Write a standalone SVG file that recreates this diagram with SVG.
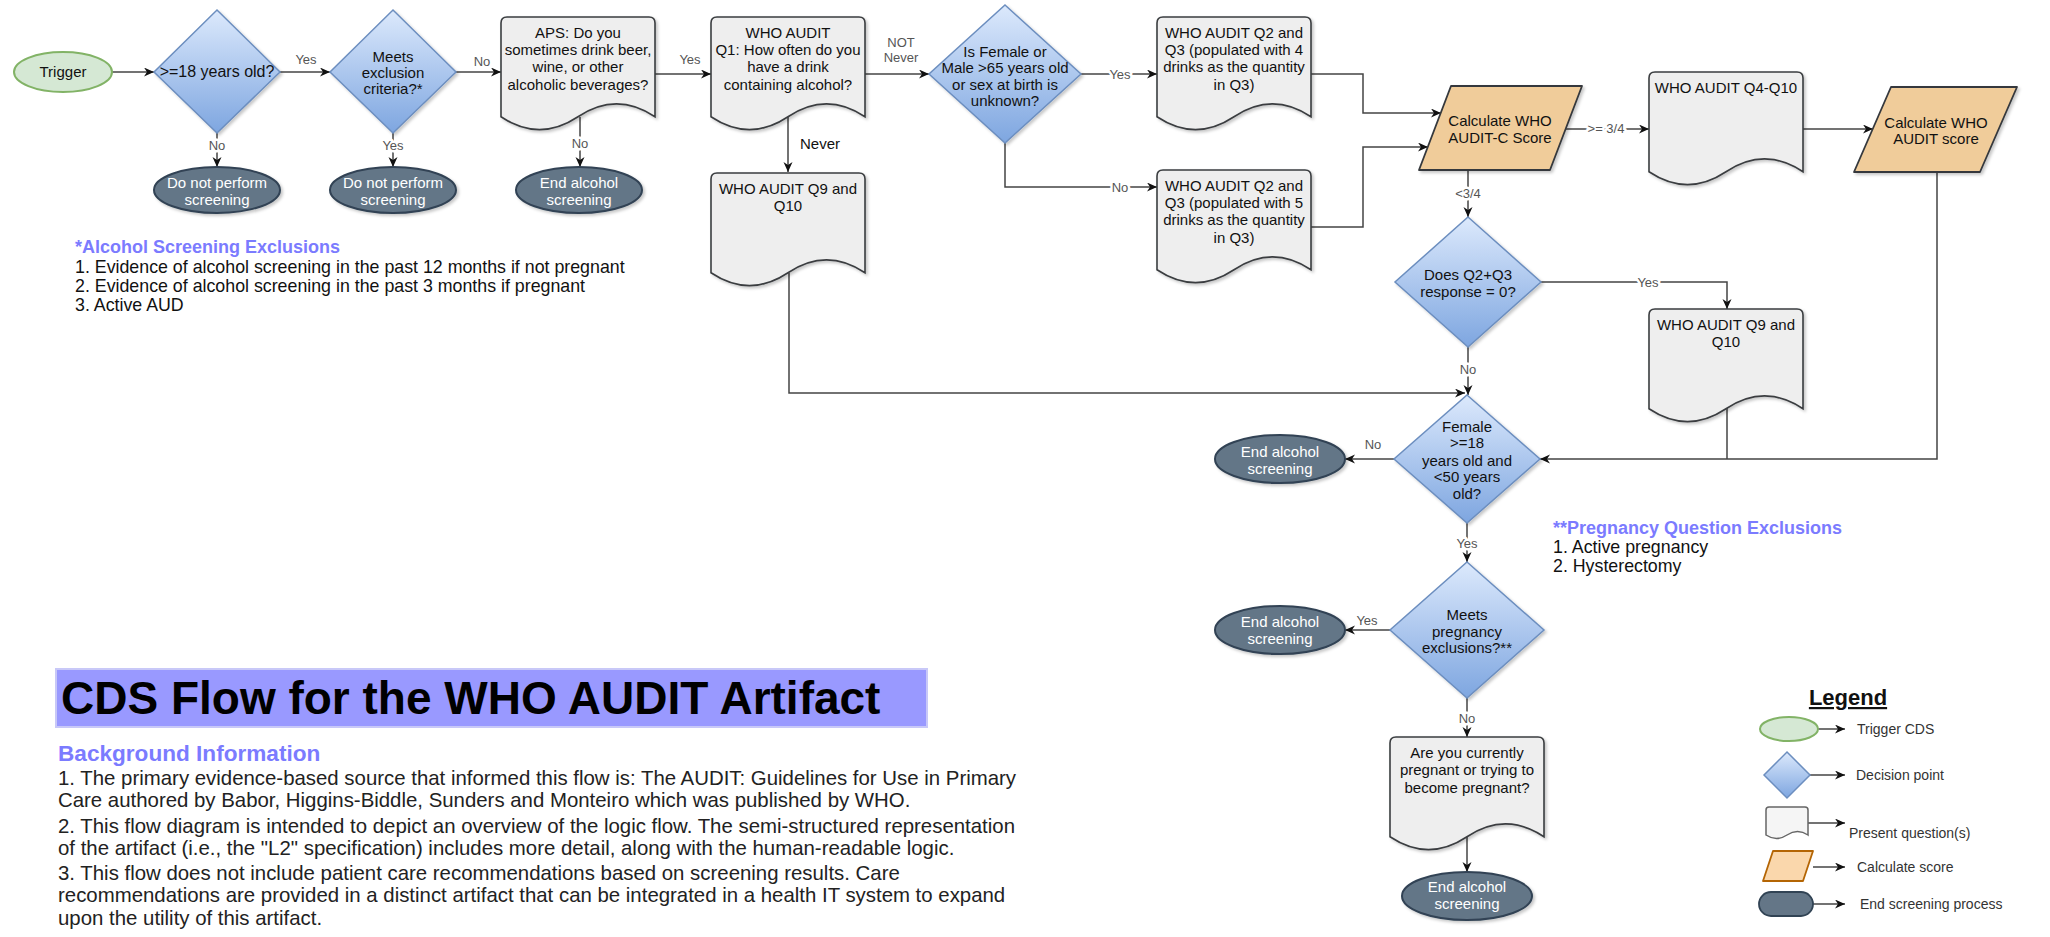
<svg xmlns="http://www.w3.org/2000/svg" xmlns:xlink="http://www.w3.org/1999/xlink" width="2050" height="937" viewBox="0 0 2050 937">
<defs>
<linearGradient id="gDia" x1="0" y1="0" x2="0" y2="1">
<stop offset="0" stop-color="#dce9fc"/>
<stop offset="1" stop-color="#7ea6e0"/>
</linearGradient>
<filter id="sh" x="-10%" y="-10%" width="130%" height="130%">
<feDropShadow dx="2" dy="2" stdDeviation="1.5" flood-color="#000" flood-opacity="0.22"/>
</filter>
<marker id="arr" markerUnits="userSpaceOnUse" markerWidth="12" markerHeight="10" refX="10" refY="4.5" orient="auto">
<path d="M0,0 L10,4.5 L0,9 L3,4.5 Z" fill="#111"/>
</marker>
<path id="doc" d="M0,6 Q0,0 6,0 H148 Q154,0 154,6 V99.75 Q115.5,74.1 77,99.75 Q38.5,125.4 0,99.75 Z"/>
<style>
text{font-family:"Liberation Sans",Arial,sans-serif}
.doc{fill:#eeeeee;stroke:#3a3d40;stroke-width:1.6;filter:url(#sh)}
.dia{fill:url(#gDia);stroke:#6c8ebf;stroke-width:1.5;filter:url(#sh)}
.end{fill:#647687;stroke:#314354;stroke-width:2;filter:url(#sh)}
.trig{fill:#d5e8d4;stroke:#82b366;stroke-width:2}
.calc{fill:#f0cc9a;stroke:#36393d;stroke-width:1.8;stroke-linejoin:round;filter:url(#sh)}
.t{font-size:15px;fill:#111;text-anchor:middle}
.tw{font-size:15px;fill:#fff;text-anchor:middle}
.lbl{font-size:13px;fill:#555;text-anchor:middle}
.bg{paint-order:stroke;stroke:#fff;stroke-width:5px;stroke-linejoin:round}
.edge{fill:none;stroke:#444;stroke-width:1.5}
.arw{marker-end:url(#arr)}
.note{font-size:17.8px;fill:#111}
.head{font-size:18px;font-weight:bold;fill:#7b7bff}
.body{font-size:20.4px;fill:#222}
.leg{font-size:14px;fill:#333}
</style>
</defs>
<rect width="2050" height="937" fill="#ffffff"/>

<g id="connectors">
<path class="edge arw" d="M112,72 H154"/>
<path class="edge arw" d="M280,72 H330"/>
<path class="edge arw" d="M456,72 H501"/>
<path class="edge arw" d="M655,74 H711"/>
<path class="edge arw" d="M865,74 H929"/>
<path class="edge arw" d="M1081,74 H1157"/>
<path class="edge arw" d="M1005,143 V187 H1157"/>
<path class="edge arw" d="M217,133 V167"/>
<path class="edge arw" d="M393,133 V167"/>
<path class="edge arw" d="M580,117 V167"/>
<path class="edge arw" d="M788,117 V172"/>
<path class="edge arw" d="M1311,74 H1363 V113 H1441"/>
<path class="edge arw" d="M1311,227 H1363 V147 H1428"/>
<path class="edge arw" d="M1566,129 H1649"/>
<path class="edge arw" d="M1803,129 H1873"/>
<path class="edge arw" d="M1468,170 V217"/>
<path class="edge arw" d="M1541,282 H1727 V309"/>
<path class="edge arw" d="M1468,347 V395"/>
<path class="edge arw" d="M789,273 V393 H1465"/>
<path class="edge arw" d="M1937,172 V459 H1540"/>
<path class="edge" d="M1727,408 V459"/>
<path class="edge arw" d="M1394,459 H1345"/>
<path class="edge arw" d="M1467,523 V562"/>
<path class="edge arw" d="M1390,630 H1345"/>
<path class="edge arw" d="M1467,698 V737"/>
<path class="edge arw" d="M1467,836 V872"/>
<path class="edge arw" d="M1818,729 H1845"/>
<path class="edge arw" d="M1810,775 H1845"/>
<path class="edge arw" d="M1808,823 H1845"/>
<path class="edge arw" d="M1813,867 H1845"/>
<path class="edge arw" d="M1813,904 H1845"/>
<text class="lbl" x="306" y="64">Yes</text>
<text class="lbl" x="482" y="66">No</text>
<text class="lbl" x="690" y="64">Yes</text>
<text class="lbl bg" x="217" y="150">No</text>
<text class="lbl bg" x="393" y="150">Yes</text>
<text class="lbl bg" x="580" y="148">No</text>
<text class="lbl" x="901" y="47">NOT</text>
<text class="lbl" x="901" y="62">Never</text>
<text x="800" y="149" style="font-size:15px;fill:#111">Never</text>
<text class="lbl bg" x="1120" y="79">Yes</text>
<text class="lbl bg" x="1120" y="192">No</text>
<text class="lbl bg" x="1606" y="133">&gt;= 3/4</text>
<text class="lbl bg" x="1468" y="198">&lt;3/4</text>
<text class="lbl bg" x="1648" y="287">Yes</text>
<text class="lbl bg" x="1468" y="374">No</text>
<text class="lbl" x="1373" y="449">No</text>
<text class="lbl bg" x="1467" y="548">Yes</text>
<text class="lbl" x="1367" y="625">Yes</text>
<text class="lbl bg" x="1467" y="723">No</text>
</g>

<g id="n-trigger">
<ellipse class="trig" cx="63" cy="72" rx="49" ry="20"/>
<text class="t" x="63" y="77">Trigger</text>
</g>
<g id="n-age">
<polygon class="dia" points="217,10 280,72 217,133 154,72"/>
<text class="t" x="217" y="77" style="font-size:16px">&gt;=18 years old?</text>
</g>
<g id="n-excl">
<polygon class="dia" points="393,10 456,72 393,133 330,72"/>
<text class="t" x="393" y="62">Meets</text>
<text class="t" x="393" y="78">exclusion</text>
<text class="t" x="393" y="94">criteria?*</text>
</g>
<g id="n-aps">
<use href="#doc" class="doc" x="501" y="17"/>
<text class="t" x="578" y="38">APS: Do you</text>
<text class="t" x="578" y="55">sometimes drink beer,</text>
<text class="t" x="578" y="72">wine, or other</text>
<text class="t" x="578" y="90">alcoholic beverages?</text>
</g>
<g id="n-end1">
<ellipse class="end" cx="217" cy="190" rx="63" ry="23"/>
<text class="tw" x="217" y="188">Do not perform</text>
<text class="tw" x="217" y="205">screening</text>
</g>
<g id="n-end2">
<ellipse class="end" cx="393" cy="190" rx="63" ry="23"/>
<text class="tw" x="393" y="188">Do not perform</text>
<text class="tw" x="393" y="205">screening</text>
</g>
<g id="n-end3">
<ellipse class="end" cx="579" cy="190" rx="63" ry="23"/>
<text class="tw" x="579" y="188">End alcohol</text>
<text class="tw" x="579" y="205">screening</text>
</g>
<g id="n-q1">
<use href="#doc" class="doc" x="711" y="17"/>
<text class="t" x="788" y="38">WHO AUDIT</text>
<text class="t" x="788" y="55">Q1: How often do you</text>
<text class="t" x="788" y="72">have a drink</text>
<text class="t" x="788" y="90">containing alcohol?</text>
</g>
<g id="n-q9a">
<use href="#doc" class="doc" x="711" y="173"/>
<text class="t" x="788" y="194">WHO AUDIT Q9 and</text>
<text class="t" x="788" y="211">Q10</text>
</g>
<g id="n-sex">
<polygon class="dia" points="1005,5 1081,74 1005,143 929,74"/>
<text class="t" x="1005" y="57">Is Female or</text>
<text class="t" x="1005" y="73">Male &gt;65 years old</text>
<text class="t" x="1005" y="90">or sex at birth is</text>
<text class="t" x="1005" y="106">unknown?</text>
</g>
<g id="n-q23a">
<use href="#doc" class="doc" x="1157" y="17"/>
<text class="t" x="1234" y="38">WHO AUDIT Q2 and</text>
<text class="t" x="1234" y="55">Q3 (populated with 4</text>
<text class="t" x="1234" y="72">drinks as the quantity</text>
<text class="t" x="1234" y="90">in Q3)</text>
</g>
<g id="n-q23b">
<use href="#doc" class="doc" x="1157" y="170"/>
<text class="t" x="1234" y="191">WHO AUDIT Q2 and</text>
<text class="t" x="1234" y="208">Q3 (populated with 5</text>
<text class="t" x="1234" y="225">drinks as the quantity</text>
<text class="t" x="1234" y="243">in Q3)</text>
</g>
<g id="n-calcc">
<polygon class="calc" points="1451,86 1582,86 1550,170 1419,170"/>
<text class="t" x="1500" y="126">Calculate WHO</text>
<text class="t" x="1500" y="143">AUDIT-C Score</text>
</g>
<g id="n-q4">
<use href="#doc" class="doc" x="1649" y="72"/>
<text class="t" x="1726" y="93">WHO AUDIT Q4-Q10</text>
</g>
<g id="n-calcs">
<polygon class="calc" points="1891,87 2017,87 1980,172 1854,172"/>
<text class="t" x="1936" y="128">Calculate WHO</text>
<text class="t" x="1936" y="144">AUDIT score</text>
</g>
<g id="n-zero">
<polygon class="dia" points="1468,217 1541,282 1468,347 1395,282"/>
<text class="t" x="1468" y="280">Does Q2+Q3</text>
<text class="t" x="1468" y="297">response = 0?</text>
</g>
<g id="n-q9b">
<use href="#doc" class="doc" x="1649" y="309"/>
<text class="t" x="1726" y="330">WHO AUDIT Q9 and</text>
<text class="t" x="1726" y="347">Q10</text>
</g>
<g id="n-female">
<polygon class="dia" points="1467,395 1540,459 1467,523 1394,459"/>
<text class="t" x="1467" y="432">Female</text>
<text class="t" x="1467" y="448">&gt;=18</text>
<text class="t" x="1467" y="466">years old and</text>
<text class="t" x="1467" y="482">&lt;50 years</text>
<text class="t" x="1467" y="499">old?</text>
</g>
<g id="n-end4">
<ellipse class="end" cx="1280" cy="459" rx="65" ry="24"/>
<text class="tw" x="1280" y="457">End alcohol</text>
<text class="tw" x="1280" y="474">screening</text>
</g>
<g id="n-preg">
<polygon class="dia" points="1467,562 1544,630 1467,698 1390,630"/>
<text class="t" x="1467" y="620">Meets</text>
<text class="t" x="1467" y="637">pregnancy</text>
<text class="t" x="1467" y="653">exclusions?**</text>
</g>
<g id="n-end5">
<ellipse class="end" cx="1280" cy="630" rx="65" ry="24"/>
<text class="tw" x="1280" y="627">End alcohol</text>
<text class="tw" x="1280" y="644">screening</text>
</g>
<g id="n-pregq">
<use href="#doc" class="doc" x="1390" y="737"/>
<text class="t" x="1467" y="758">Are you currently</text>
<text class="t" x="1467" y="775">pregnant or trying to</text>
<text class="t" x="1467" y="793">become pregnant?</text>
</g>
<g id="n-end6">
<ellipse class="end" cx="1467" cy="896" rx="65" ry="24"/>
<text class="tw" x="1467" y="892">End alcohol</text>
<text class="tw" x="1467" y="909">screening</text>
</g>

<g id="note-excl">
<text class="head" x="75" y="253">*Alcohol Screening Exclusions</text>
<text class="note" x="75" y="273">1. Evidence of alcohol screening in the past 12 months if not pregnant</text>
<text class="note" x="75" y="292">2. Evidence of alcohol screening in the past 3 months if pregnant</text>
<text class="note" x="75" y="311">3. Active AUD</text>
</g>
<g id="note-preg">
<text class="head" x="1553" y="534">**Pregnancy Question Exclusions</text>
<text class="note" x="1553" y="553">1. Active pregnancy</text>
<text class="note" x="1553" y="572">2. Hysterectomy</text>
</g>
<g id="title">
<rect x="56" y="669" width="871" height="58" fill="#9999ff" stroke="#c8c8f8" stroke-width="2"/>
<text x="61" y="714" style="font-size:46px;font-weight:bold;fill:#000">CDS Flow for the WHO AUDIT Artifact</text>
</g>
<g id="background">
<text x="58" y="761" style="font-size:22.6px;font-weight:bold;fill:#7b7bff">Background Information</text>
<text class="body" x="58" y="785">1. The primary evidence-based source that informed this flow is: The AUDIT: Guidelines for Use in Primary</text>
<text class="body" x="58" y="807">Care authored by Babor, Higgins-Biddle, Sunders and Monteiro which was published by WHO.</text>
<text class="body" x="58" y="833">2. This flow diagram is intended to depict an overview of the logic flow. The semi-structured representation</text>
<text class="body" x="58" y="855">of the artifact (i.e., the "L2" specification) includes more detail, along with the human-readable logic.</text>
<text class="body" x="58" y="880">3. This flow does not include patient care recommendations based on screening results. Care</text>
<text class="body" x="58" y="902">recommendations are provided in a distinct artifact that can be integrated in a health IT system to expand</text>
<text class="body" x="58" y="925">upon the utility of this artifact.</text>
</g>
<g id="legend">
<text x="1848" y="705" style="font-size:22px;font-weight:bold;fill:#111;text-anchor:middle;text-decoration:underline">Legend</text>
<ellipse class="trig" cx="1789" cy="729" rx="29" ry="12"/>
<polygon points="1787,752 1810,775 1787,798 1764,775" fill="url(#gDia)" stroke="#6c8ebf" stroke-width="1.5"/>
<path d="M1766,810 Q1766,807 1769,807 H1805 Q1808,807 1808,810 V835 Q1797.5,828 1787,835 Q1776.5,842 1766,835 Z" fill="#f5f5f5" stroke="#666" stroke-width="1.5"/>
<polygon points="1773,851 1813,851 1803,881 1763,881" fill="#fad7ac" stroke="#b46504" stroke-width="1.8" stroke-linejoin="round"/>
<rect x="1759" y="892" width="54" height="24" rx="12" fill="#647687" stroke="#314354" stroke-width="1.8"/>
<text class="leg" x="1857" y="734">Trigger CDS</text>
<text class="leg" x="1856" y="780">Decision point</text>
<text class="leg" x="1849" y="838">Present question(s)</text>
<text class="leg" x="1857" y="872">Calculate score</text>
<text class="leg" x="1860" y="909">End screening process</text>
</g>
</svg>
